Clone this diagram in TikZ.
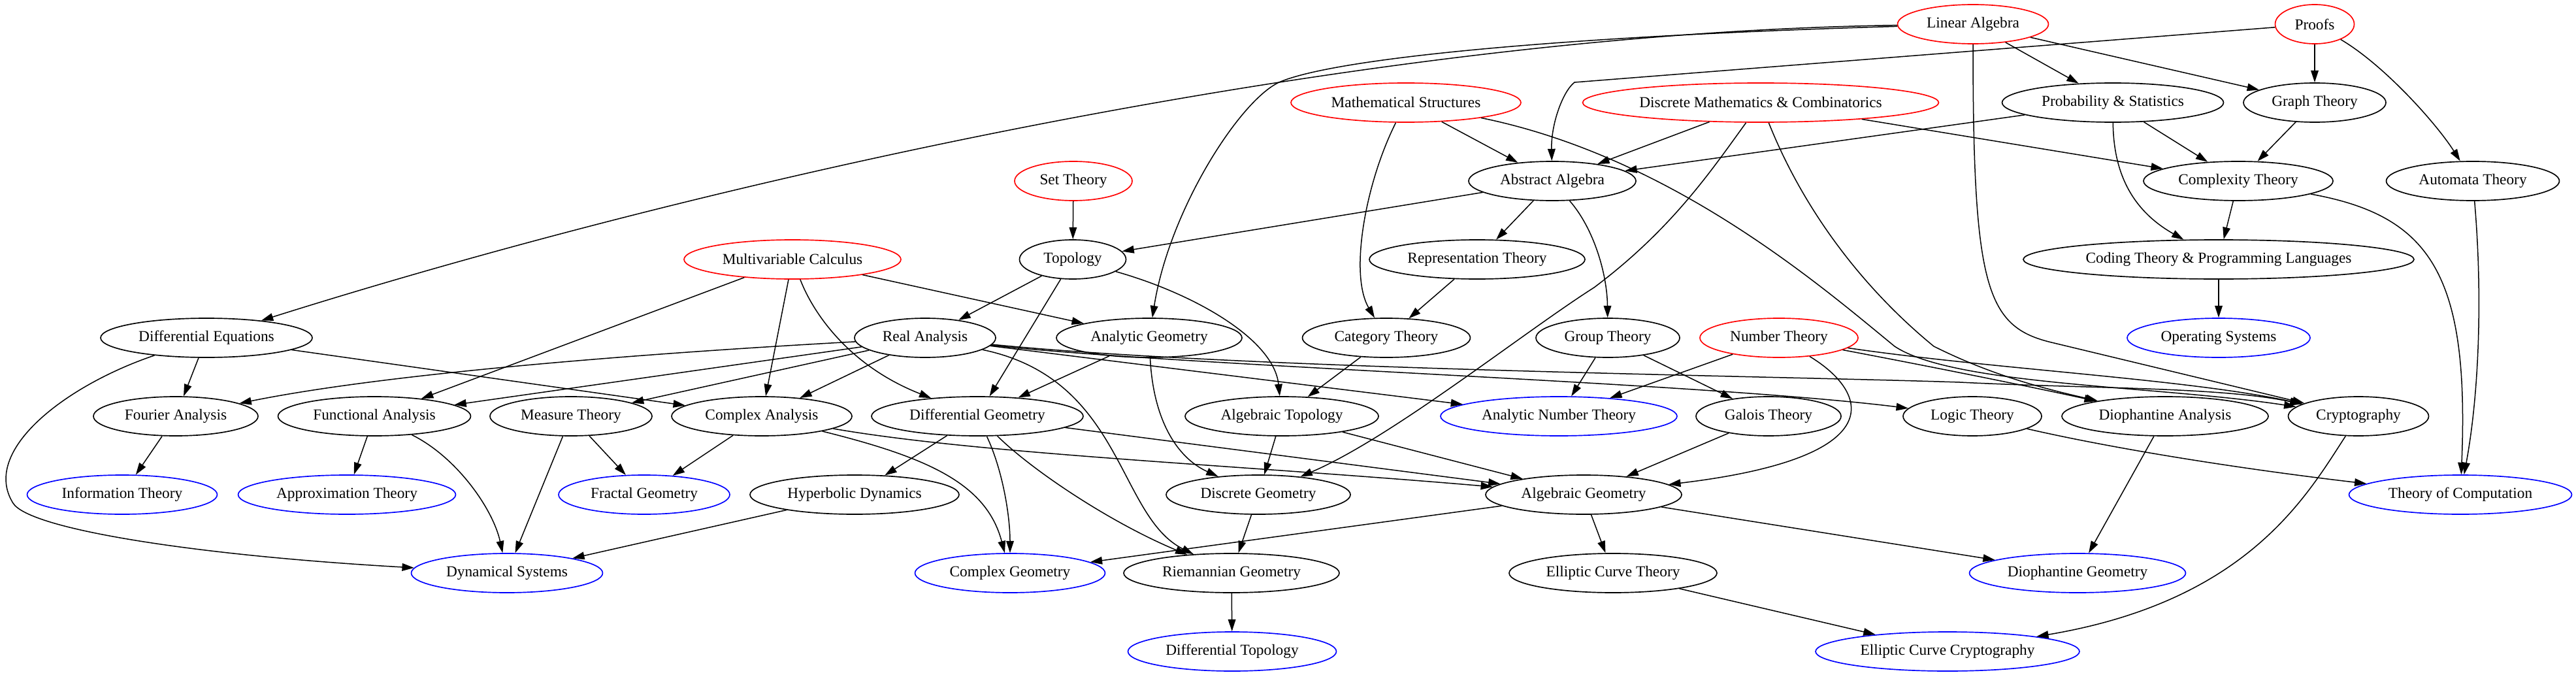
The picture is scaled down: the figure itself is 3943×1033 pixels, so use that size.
\documentclass[tikz,border=0pt]{standalone}
\usepackage{fontspec}
\setmainfont{Liberation Serif}
\usetikzlibrary{arrows.meta,shapes.geometric}
\begin{document}
\begin{tikzpicture}[x=0.6pt,y=-0.6pt]
\tikzset{
  nd/.style={ellipse, draw=black, line width=1pt, inner sep=0pt, minimum height=36pt, font=\fontsize{14}{16}\selectfont},
  src/.style={nd, draw=red},
  leaf/.style={nd, draw=blue},
  ar/.style={-{Triangle[length=11pt,width=7pt]}, line width=0.9pt}
}
\useasboundingbox (0,0) rectangle (3943,1033);
% rank 0
\node[src, minimum width=138.6pt] (LA) at (3020,37) {Linear Algebra};
\node[src, minimum width=72.6pt] (Proofs) at (3543,37) {Proofs};
% rank 1
\node[src, minimum width=211.2pt] (MS) at (2152,157) {Mathematical Structures};
\node[src, minimum width=327pt] (DM) at (2695,157) {Discrete Mathematics \& Combinatorics};
\node[nd, minimum width=203.4pt] (PS) at (3234,157) {Probability \& Statistics};
\node[nd, minimum width=130.8pt] (GT) at (3543,157) {Graph Theory};
% rank 2
\node[src, minimum width=108pt] (SetTh) at (1643,277) {Set Theory};
\node[nd, minimum width=153.6pt] (AA) at (2376,277) {Abstract Algebra};
\node[nd, minimum width=174pt] (Complexity) at (3426,277) {Complexity Theory};
\node[nd, minimum width=159pt] (Automata) at (3785,277) {Automata Theory};
% rank 3
\node[src, minimum width=199.2pt] (MC) at (1213,397) {Multivariable Calculus};
\node[nd, minimum width=97.8pt] (Topology) at (1642,397) {Topology};
\node[nd, minimum width=198pt] (RepTh) at (2261,397) {Representation Theory};
\node[nd, minimum width=358.8pt] (Coding) at (3396,397) {Coding Theory \& Programming Languages};
% rank 4
\node[nd, minimum width=194.4pt] (DE) at (316,517) {Differential Equations};
\node[nd, minimum width=129.6pt] (RA) at (1416,517) {Real Analysis};
\node[nd, minimum width=170.4pt] (AG) at (1759,517) {Analytic Geometry};
\node[nd, minimum width=154.2pt] (CatTh) at (2122,517) {Category Theory};
\node[nd, minimum width=132pt] (GroupTh) at (2461,517) {Group Theory};
\node[src, minimum width=145.2pt] (NT) at (2723,517) {Number Theory};
\node[leaf, minimum width=168pt] (OS) at (3396,517) {Operating Systems};
% rank 5
\node[nd, minimum width=151.2pt] (Fourier) at (269,637) {Fourier Analysis};
\node[nd, minimum width=177pt] (FuncAn) at (573,637) {Functional Analysis};
\node[nd, minimum width=148.8pt] (Measure) at (874,637) {Measure Theory};
\node[nd, minimum width=165.6pt] (CA) at (1166,637) {Complex Analysis};
\node[nd, minimum width=194.4pt] (DG) at (1496,637) {Differential Geometry};
\node[nd, minimum width=177.6pt] (AlgTop) at (1962,637) {Algebraic Topology};
\node[leaf, minimum width=217.2pt] (ANT) at (2386,637) {Analytic Number Theory};
\node[nd, minimum width=133.2pt] (Galois) at (2707,637) {Galois Theory};
\node[nd, minimum width=127.2pt] (Logic) at (3019,637) {Logic Theory};
\node[nd, minimum width=189.6pt] (DA) at (3314,637) {Diophantine Analysis};
\node[nd, minimum width=129pt] (Crypto) at (3610,637) {Cryptography};
% rank 6
\node[leaf, minimum width=174.6pt] (InfoTh) at (187,757) {Information Theory};
\node[leaf, minimum width=199.8pt] (Approx) at (531,757) {Approximation Theory};
\node[leaf, minimum width=157.2pt] (Fractal) at (986,757) {Fractal Geometry};
\node[nd, minimum width=192pt] (Hyperbolic) at (1308,757) {Hyperbolic Dynamics};
\node[nd, minimum width=169.2pt] (DiscGeom) at (1926,757) {Discrete Geometry};
\node[nd, minimum width=180pt] (AlgGeom) at (2424,757) {Algebraic Geometry};
\node[leaf, minimum width=204.6pt] (ToC) at (3766,757) {Theory of Computation};
% rank 7
\node[leaf, minimum width=175.8pt] (DynSys) at (776,877) {Dynamical Systems};
\node[leaf, minimum width=174.6pt] (ComplexGeom) at (1546,877) {Complex Geometry};
\node[nd, minimum width=198pt] (Riemannian) at (1885,877) {Riemannian Geometry};
\node[nd, minimum width=190.8pt] (ECT) at (2469,877) {Elliptic Curve Theory};
\node[leaf, minimum width=198.6pt] (DiophGeom) at (3180,877) {Diophantine Geometry};
% rank 8
\node[leaf, minimum width=191.4pt] (DiffTop) at (1886,997) {Differential Topology};
\node[leaf, minimum width=242.4pt] (ECC) at (2981,997) {Elliptic Curve Cryptography};

% edges
\draw[ar] (LA) .. controls (2100,50) and (1100,270) .. (DE);
\draw[ar] (LA) .. controls (2400,55) and (2050,88) .. (1960,125) .. controls (1900,150) and (1790,320) .. (AG);
\draw[ar] (LA) -- (PS);
\draw[ar] (LA) -- (GT);
\draw[ar] (LA) .. controls (3020,440) and (3040,500) .. (3140,524) -- (Crypto);
\draw[ar] (Proofs) -- (2410,126) .. controls (2392,140) and (2374,190) .. (AA);
\draw[ar] (Proofs) -- (GT);
\draw[ar] (Proofs) .. controls (3650,100) and (3730,190) .. (Automata);
\draw[ar] (MS) -- (AA);
\draw[ar] (MS) .. controls (2090,280) and (2065,420) .. (CatTh);
\draw[ar] (MS) .. controls (2560,240) and (2790,440) .. (2900,530) .. controls (2990,590) and (3300,590) .. (Crypto);
\draw[ar] (DM) -- (AA);
\draw[ar] (DM) -- (Complexity);
\draw[ar] (DM) .. controls (2620,260) and (2560,350) .. (2440,440) .. controls (2330,510) and (2130,670) .. (DiscGeom);
\draw[ar] (DM) .. controls (2760,320) and (2850,440) .. (2960,530) .. controls (3050,575) and (3130,595) .. (DA);
\draw[ar] (PS) -- (AA);
\draw[ar] (PS) -- (Complexity);
\draw[ar] (PS) .. controls (3235,260) and (3260,320) .. (Coding);
\draw[ar] (GT) -- (Complexity);
\draw[ar] (Complexity) -- (Coding);
\draw[ar] (Complexity) .. controls (3720,330) and (3780,420) .. (ToC);
\draw[ar] (Automata) .. controls (3800,450) and (3795,600) .. (ToC);
\draw[ar] (Coding) -- (OS);
\draw[ar] (SetTh) -- (Topology);
\draw[ar] (AA) -- (Topology);
\draw[ar] (AA) -- (RepTh);
\draw[ar] (AA) .. controls (2440,350) and (2460,420) .. (GroupTh);
\draw[ar] (RepTh) -- (CatTh);
\draw[ar] (MC) -- (FuncAn);
\draw[ar] (MC) -- (CA);
\draw[ar] (MC) .. controls (1245,480) and (1300,560) .. (DG);
\draw[ar] (MC) -- (AG);
\draw[ar] (Topology) -- (RA);
\draw[ar] (Topology) -- (DG);
\draw[ar] (Topology) .. controls (1830,450) and (1950,520) .. (AlgTop);
\draw[ar] (DE) -- (Fourier);
\draw[ar] (DE) .. controls (100,590) and (-30,690) .. (20,770) .. controls (45,810) and (300,850) .. (DynSys);
\draw[ar] (DE) -- (CA);
\draw[ar] (RA) .. controls (1000,540) and (600,570) .. (Fourier);
\draw[ar] (RA) -- (FuncAn);
\draw[ar] (RA) -- (Measure);
\draw[ar] (RA) -- (CA);
\draw[ar] (RA) .. controls (1720,580) and (1710,790) .. (Riemannian);
\draw[ar] (RA) -- (ANT);
\draw[ar] (RA) .. controls (1800,560) and (2600,585) .. (Logic);
\draw[ar] (RA) .. controls (1900,565) and (2700,575) .. (3000,585) .. controls (3200,595) and (3400,592) .. (Crypto);
\draw[ar] (AG) -- (DG);
\draw[ar] (AG) .. controls (1765,640) and (1800,700) .. (DiscGeom);
\draw[ar] (CatTh) -- (AlgTop);
\draw[ar] (GroupTh) -- (ANT);
\draw[ar] (GroupTh) -- (Galois);
\draw[ar] (NT) -- (ANT);
\draw[ar] (NT) .. controls (2860,600) and (2900,700) .. (AlgGeom);
\draw[ar] (NT) .. controls (2950,560) and (3100,590) .. (DA);
\draw[ar] (NT) .. controls (3050,565) and (3350,580) .. (Crypto);
\draw[ar] (Fourier) -- (InfoTh);
\draw[ar] (FuncAn) -- (Approx);
\draw[ar] (FuncAn) .. controls (700,700) and (755,780) .. (DynSys);
\draw[ar] (Measure) -- (DynSys);
\draw[ar] (Measure) -- (Fractal);
\draw[ar] (CA) -- (Fractal);
\draw[ar] (CA) .. controls (1420,700) and (1510,740) .. (ComplexGeom);
\draw[ar] (CA) .. controls (1500,695) and (1900,712) .. (AlgGeom);
\draw[ar] (DG) -- (Hyperbolic);
\draw[ar] (DG) .. controls (1535,720) and (1546,790) .. (ComplexGeom);
\draw[ar] (DG) .. controls (1580,720) and (1700,800) .. (Riemannian);
\draw[ar] (DG) -- (AlgGeom);
\draw[ar] (AlgTop) -- (DiscGeom);
\draw[ar] (AlgTop) -- (AlgGeom);
\draw[ar] (Galois) -- (AlgGeom);
\draw[ar] (Logic) .. controls (3250,690) and (3450,720) .. (ToC);
\draw[ar] (DA) -- (DiophGeom);
\draw[ar] (Crypto) .. controls (3530,760) and (3440,920) .. (ECC);
\draw[ar] (Hyperbolic) -- (DynSys);
\draw[ar] (DiscGeom) -- (Riemannian);
\draw[ar] (AlgGeom) -- (ComplexGeom);
\draw[ar] (AlgGeom) -- (ECT);
\draw[ar] (AlgGeom) -- (DiophGeom);
\draw[ar] (Riemannian) -- (DiffTop);
\draw[ar] (ECT) -- (ECC);
\end{tikzpicture}
\end{document}
